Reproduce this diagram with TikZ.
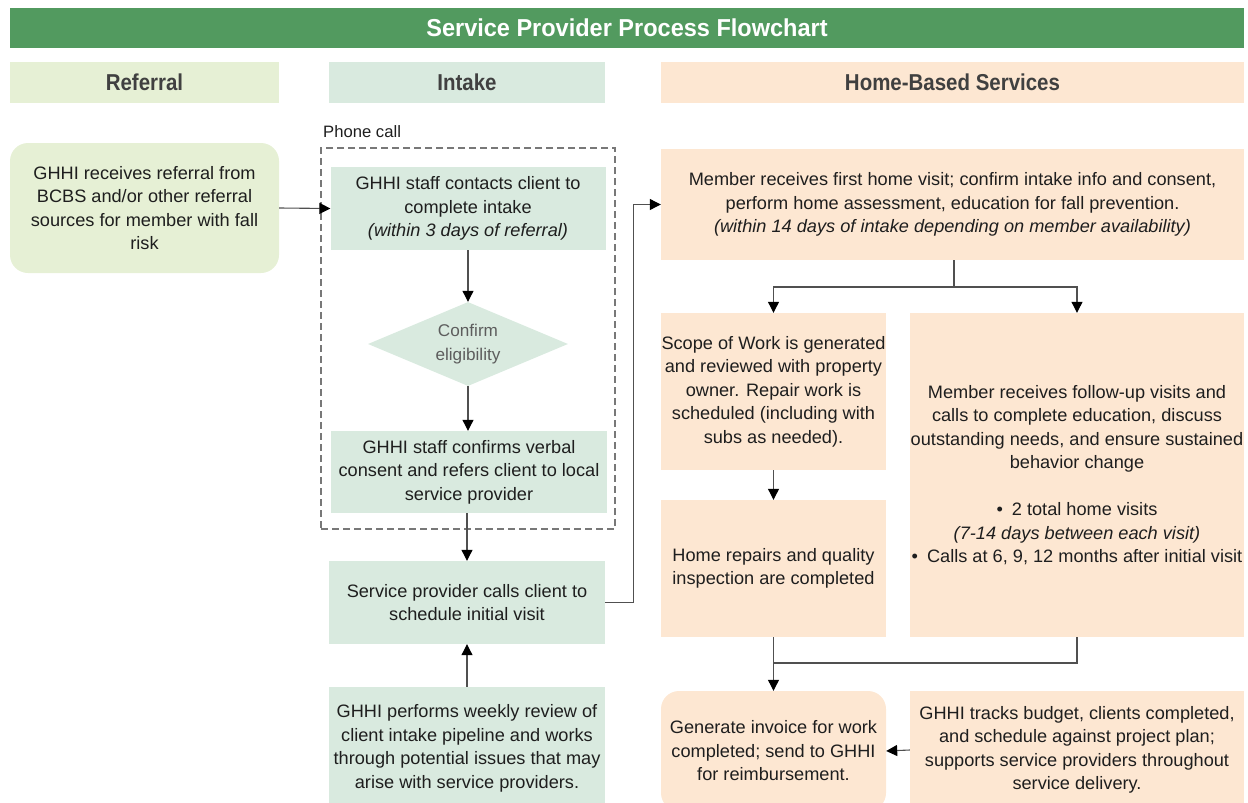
\documentclass[tikz,border=0pt]{standalone}
\usepackage{fontspec}
\setmainfont{Liberation Sans}[FakeStretch=1.01]
\newfontfamily\headfont{Liberation Sans}[FakeStretch=0.89]
\newfontfamily\titlefont{Liberation Sans}[FakeStretch=0.96]
\usetikzlibrary{shapes.geometric,arrows.meta}
\definecolor{titlegreen}{RGB}{82,154,95}
\definecolor{refgreen}{RGB}{230,240,213}
\definecolor{intakegreen}{RGB}{217,234,223}
\definecolor{peach}{RGB}{253,231,210}
\definecolor{txt}{RGB}{30,30,30}
\definecolor{headtxt}{RGB}{64,64,64}
\definecolor{linegrey}{RGB}{80,80,80}
\definecolor{dashgrey}{RGB}{120,120,120}
\tikzset{
  boxbase/.style={rectangle, inner sep=0pt, align=center, text=txt, font=\fontsize{18}{23.5}\selectfont},
  refbox/.style={boxbase, fill=refgreen},
  intbox/.style={boxbase, fill=intakegreen},
  homebox/.style={boxbase, fill=peach},
  headbox/.style={rectangle, inner sep=0pt, align=center, text=headtxt, font=\headfont\fontsize{23}{26}\selectfont\bfseries, minimum height=41pt},
  conn/.style={draw=linegrey, line width=1.1pt, -{Triangle[length=11pt,width=11pt,color=black]}},
  plainline/.style={draw=linegrey, line width=1.1pt}
}
\begin{document}
\begin{tikzpicture}[x=1pt,y=-1pt]
\useasboundingbox (0,0) rectangle (1248,803);
% title
\node (title) [rectangle, fill=titlegreen, minimum width=1234pt, minimum height=40pt, inner sep=0pt, text=white, font=\titlefont\fontsize{24.5}{28}\selectfont\bfseries] at (627,28) {Service Provider Process Flowchart};
% headers
\node (hRef) [headbox, fill=refgreen, minimum width=269pt] at (144.5,82.5) {Referral};
\node (hInt) [headbox, fill=intakegreen, minimum width=276pt] at (467,82.5) {Intake};
\node (hHome) [headbox, fill=peach, minimum width=583pt] at (952.5,82.5) {Home-Based Services};
% phone call group
\node (phone) [rectangle, draw=dashgrey, dashed, dash pattern=on 7pt off 4pt, line width=1.1pt, minimum width=294pt, minimum height=381pt, inner sep=0pt] at (468,338.5) {};
\node (phonelbl) [anchor=west, inner sep=0pt, text=txt, font=\fontsize{16.5}{20}\selectfont] at (323,132) {Phone call};
% referral
\node (ref) [refbox, rounded corners=18pt, minimum width=269pt, minimum height=130pt] at (144.5,208) {GHHI receives referral from\\BCBS and/or other referral\\sources for member with fall\\risk};
% intake
\node (contact) [intbox, minimum width=275pt, minimum height=83pt] at (468,208.5) {GHHI staff contacts client to\\complete intake\\\itshape (within 3 days of referral)};
\node (elig) [diamond, fill=intakegreen, inner sep=0pt, aspect=2.4, minimum width=200pt, minimum height=84pt, align=center, text=headtxt!85, font=\fontsize{17}{23.5}\selectfont] at (468,344) {Confirm\\eligibility};
\node (consent) [intbox, minimum width=276pt, minimum height=82pt] at (469,472) {GHHI staff confirms verbal\\consent and refers client to local\\service provider};
\node (calls) [intbox, minimum width=276pt, minimum height=83pt] at (467,602.5) {Service provider calls client to\\schedule initial visit};
\node (review) [intbox, minimum width=276pt, minimum height=123pt] at (467,748.5) {GHHI performs weekly review of\\client intake pipeline and works\\through potential issues that may\\arise with service providers.};
% home-based services
\node (visit) [homebox, minimum width=583pt, minimum height=111pt] at (952.5,204.5) {Member receives first home visit; confirm intake info and consent,\\perform home assessment, education for fall prevention.\\\itshape (within 14 days of intake depending on member availability)};
\node (scope) [homebox, minimum width=225pt, minimum height=157pt] at (773.5,391.5) {Scope of Work is generated\\and reviewed with property\\owner. Repair work is\\scheduled (including with\\subs as needed).};
\node (follow) [homebox, minimum width=334pt, minimum height=324pt] at (1077,475) {Member receives follow-up visits and\\calls to complete education, discuss\\outstanding needs, and ensure sustained\\behavior change\\[23.5pt]\textbullet\enspace 2 total home visits\\\itshape (7-14 days between each visit)\\\textbullet\enspace Calls at 6, 9, 12 months after initial visit};
\node (repairs) [homebox, minimum width=225pt, minimum height=137pt] at (773.5,568.5) {Home repairs and quality\\inspection are completed};
\node (invoice) [homebox, rounded corners=18pt, minimum width=225pt, minimum height=120pt] at (773.5,751) {Generate invoice for work\\completed; send to GHHI\\for reimbursement.};
\node (tracks) [homebox, minimum width=334pt, minimum height=118pt] at (1077,750) {GHHI tracks budget, clients completed,\\and schedule against project plan;\\supports service providers throughout\\service delivery.};
% connectors
\coordinate (split) at (954,287);
\coordinate (join) at (773.5,663);
\draw[conn] (ref.east) -- (contact.west);
\draw[conn] (contact.south) -- (elig.north);
\draw[conn] (elig.south) -- (consent.north -| elig.south);
\draw[conn] (consent.south -| calls.north) -- (calls.north);
\draw[conn] (review.north) -- (calls.south);
\draw[conn] (calls.east) -- ++(28,0) |- (visit.west);
\draw[plainline] (visit.south -| split) -- (split);
\draw[conn] (split) -| (scope.north);
\draw[conn] (split) -| (follow.north);
\draw[conn] (scope.south) -- (repairs.north);
\draw[conn] (repairs.south) -- (invoice.north);
\draw[plainline] (follow.south) |- (join);
\draw[conn] (tracks.west) -- (invoice.east);
\end{tikzpicture}
\end{document}
